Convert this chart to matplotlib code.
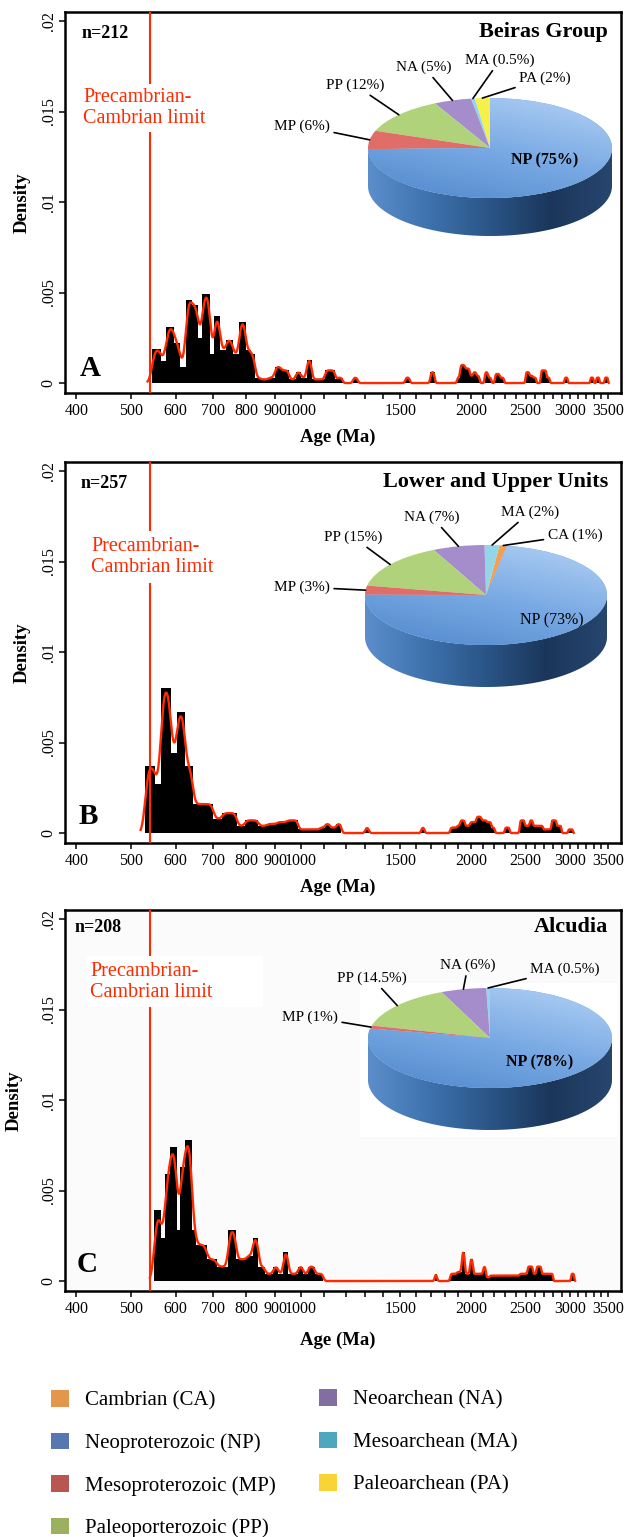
import math
import numpy as np
import matplotlib
matplotlib.use("Agg")
import matplotlib.pyplot as plt
from matplotlib.patches import Polygon, Patch, Rectangle
from matplotlib.colors import LinearSegmentedColormap
from matplotlib.ticker import NullFormatter

plt.rcParams['font.family'] = ['Liberation Serif', 'DejaVu Serif']

W, H = 628, 1537

# detrital zircon age histograms: bin edges (Ma) and density (x 1e-3)
a_edges = [545, 565, 577, 597, 611, 625, 641, 658, 669, 691, 702, 719, 737, 757, 778,
           798, 816, 829, 847, 876, 899, 922, 953, 979, 1000, 1024, 1045, 1103, 1150, 1160,
           1185, 1236, 1261, 1530, 1560, 1695, 1726, 1890, 1914, 1952, 1992, 2018, 2045, 2073, 2116,
           2145, 2175, 2206, 2250, 2290, 2500, 2540, 2576, 2612, 2660, 2722, 2760, 2930, 2970, 3255,
           3300, 3335, 3380, 3450, 3500]
a_dens = [1.9, 1.2, 3.1, 2.2, 0.9, 4.6, 4.3, 2.5, 4.9, 1.6, 3.7, 1.8, 2.4, 1.6, 3.4,
          1.8, 1.6, 0.3, 0.2, 0.3, 0.9, 0.7, 0.2, 0.6, 0.3, 1.3, 0.2, 0.7, 0.2, 0.3,
          0, 0.3, 0, 0.3, 0, 0.6, 0, 0.3, 1.0, 0.8, 0.4, 0.6, 0.4, 0, 0.6,
          0.3, 0, 0.5, 0.3, 0, 0.6, 0.4, 0.3, 0, 0.7, 0.3, 0, 0.3, 0, 0.3,
          0, 0.3, 0, 0.3]

b_edges = [530, 552, 565, 588, 603, 623, 643, 700, 726, 770, 796, 841, 871, 907, 944,
           989, 1080, 1103, 1126, 1156, 1180, 1300, 1320, 1633, 1656, 1838, 1889, 1914, 1952, 1992,
           2045, 2088, 2133, 2175, 2206, 2296, 2344, 2441, 2490, 2542, 2576, 2629, 2684, 2778, 2836,
           2895, 2973, 3034]
b_dens = [3.7, 2.7, 8.0, 4.4, 6.7, 3.7, 1.6, 0.8, 1.1, 0.4, 0.7, 0.4, 0.5, 0.6, 0.7,
          0.2, 0.3, 0.5, 0.3, 0.5, 0, 0.3, 0, 0.3, 0, 0.3, 0.4, 0.7, 0.4, 0.6,
          0.9, 0.7, 0.6, 0.3, 0, 0.3, 0, 0.7, 0.4, 0.7, 0.4, 0.4, 0.2, 0.7, 0.4,
          0, 0.2]

c_edges = [550, 564, 575, 586, 603, 611, 623, 641, 651, 667, 681, 709, 724, 744, 767,
           786, 802, 822, 841, 864, 894, 912, 931, 950, 970, 989, 1009, 1030, 1058, 1074,
           1096, 1726, 1742, 1838, 1889, 1927, 1952, 1992, 2018, 2103, 2127, 2160, 2441, 2520, 2576,
           2612, 2667, 2797, 3010, 3050]
c_dens = [3.9, 2.4, 5.9, 7.4, 2.8, 6.3, 7.8, 2.8, 2.0, 2.0, 1.2, 0.8, 0.8, 2.8, 1.2,
          1.2, 1.4, 2.4, 0.8, 0.4, 0.8, 0.4, 1.6, 0.4, 0.4, 0.8, 0.4, 0.8, 0.4, 0.4,
          0, 0.4, 0, 0.4, 0.5, 1.6, 0.4, 1.2, 0.4, 0.8, 0.2, 0.3, 0.4, 0.8, 0.4,
          0.8, 0.4, 0, 0.4]

n_grains = [212, 257, 208]
panel_letters = ['A', 'B', 'C']
panel_titles = ['Beiras Group', 'Lower and Upper Units', 'Alcudia']
limit_age = 541

# pie slices, listed counterclockwise from the start angle
a_pie_codes = ['PA', 'MA', 'NA', 'PP', 'MP', 'NP']
a_pie_pct = [2, 0.5, 5, 12, 6, 75]
b_pie_codes = ['CA', 'MA', 'NA', 'PP', 'MP', 'NP']
b_pie_pct = [1, 2, 7, 15, 3, 73]
c_pie_codes = ['MA', 'NA', 'PP', 'MP', 'NP']
c_pie_pct = [0.5, 6, 14.5, 1, 78]

legend_codes = ['CA', 'NP', 'MP', 'PP', 'NA', 'MA', 'PA']
legend_names = ['Cambrian', 'Neoproterozoic', 'Mesoproterozoic', 'Paleoporterozoic',
                'Neoarchean', 'Mesoarchean', 'Paleoarchean']

xticks_major = [400, 500, 600, 700, 800, 900, 1000, 1500, 2000, 2500, 3000, 3500]
xticks_minor = [1100, 1200, 1300, 1400, 1600, 1700, 1800, 1900, 2100, 2200, 2300, 2400,
                2600, 2700, 2800, 2900, 3100, 3200, 3300, 3400]
yticks = [0, 0.005, 0.01, 0.015, 0.02]
ytick_labels = ['0', '.005', '.01', '.015', '.02']

# colours
RED = '#ff2a00'
top_colors = {'CA': '#f5a04f', 'NP': '#6b9fdc', 'MP': '#e06d68', 'PP': '#b0d27a',
              'NA': '#a58ccb', 'MA': '#93d6ea', 'PA': '#f6f04a'}
legend_colors = {'CA': '#e3974d', 'NP': '#5677af', 'MP': '#b85752', 'PP': '#9bb15f',
                 'NA': '#826ea0', 'MA': '#4ea7bc', 'PA': '#f9d436'}
side_cmap = LinearSegmentedColormap.from_list('side', ['#5b8ecb', '#3e72ad', '#2a5587', '#1b365a', '#27466e'])
top_cmap = LinearSegmentedColormap.from_list('top', ['#4f88cc', '#7aaae4', '#b3d2f5'])

# layout in pixels
panel_top = [12, 462, 910]
pie_geom = [(490, 148, 122, 50, 38), (486, 595, 121, 50, 42), (490, 1038, 122, 50, 42)]
pie_start = [90, 80, 90]
pie_label_pos = [
    {'PP': (355, 85), 'NA': (424, 67), 'MA': (500, 60), 'PA': (545, 78), 'MP': (302, 126), 'NP': (545, 160)},
    {'NA': (432, 517), 'PP': (353, 537), 'MA': (530, 512), 'CA': (575, 535), 'MP': (302, 587), 'NP': (552, 620)},
    {'NA': (468, 965), 'PP': (372, 978), 'MA': (565, 969), 'MP': (310, 1017), 'NP': (540, 1062)},
]
np_bold = [True, False, True]
n_pos = [(82, 33), (81, 483), (75, 928)]
letter_pos = [(80, 368), (79, 816), (77, 1264)]
title_pos = [(608, 32), (608, 482), (608, 927)]
limit_text_pos = [(83, 108), (91, 557), (90, 982)]
limit_box = [(80, 84, 197, 132), (88, 531, 218, 583), (87, 956, 263, 1007)]
density_x = [31, 31, 23]    # right edge of the rotated label
age_y = [429, 879, 1332]    # top of the x label


def fx(x):
    return x / W


def fy(y):
    return 1 - y / H


def smooth(edges, dens, grid, bw=6.0):
    # histogram convolved with a gaussian kernel
    erf = np.vectorize(math.erf)
    out = np.zeros_like(grid)
    s = bw * math.sqrt(2)
    for a, b, d in zip(edges[:-1], edges[1:], dens):
        if d == 0:
            continue
        out += d * 0.5 * (erf((grid - a) / s) - erf((grid - b) / s))
    return out


fig = plt.figure(figsize=(W / 100, H / 100), dpi=100)


def draw_panel(i, edges, dens):
    top = panel_top[i]
    ax = fig.add_axes([fx(65), fy(top + 381), 556 / W, 381 / H])
    d = np.array(dens) * 1e-3
    ax.stairs(d, edges, fill=True, color='black', lw=0, zorder=2)
    grid = np.linspace(edges[0] - 10, edges[-1] + 10, 4000)
    ax.plot(grid, smooth(edges, d, grid), color=RED, lw=1.7, zorder=4)
    ax.axvline(limit_age, color=RED, lw=1.5, zorder=3)
    ax.set_xscale('log')
    ax.set_xlim(382, 3690)
    ax.set_ylim(-0.00055, 0.0205)
    ax.set_xticks(xticks_major, [str(t) for t in xticks_major])
    ax.set_xticks(xticks_minor, minor=True)
    ax.xaxis.set_minor_formatter(NullFormatter())
    ax.set_yticks(yticks, ytick_labels, rotation=90, va='center')
    ax.tick_params(which='both', direction='out', length=4, width=1.1, labelsize=11.5, pad=2)
    ax.tick_params(axis='x', pad=3)
    for sp in ax.spines.values():
        sp.set_linewidth(1.8)
    ax.set_ylabel('Density', fontsize=13.5, fontweight='bold')
    ax.yaxis.set_label_coords((density_x[i] - 65) / 556, 0.5)
    ax.set_xlabel('Age (Ma)', fontsize=13.5, fontweight='bold')
    ax.xaxis.set_label_coords((338 - 65) / 556, (top + 381 - age_y[i]) / 381)

    if i == 2:
        ax.set_facecolor('#fbfbfb')
        ax.add_patch(Rectangle((fx(360), fy(1137)), 258 / W, 154 / H, transform=fig.transFigure,
                               facecolor='white', edgecolor='none', zorder=1))
    x0, y0, x1, y1 = limit_box[i]
    ax.add_patch(Rectangle((fx(x0), fy(y1)), (x1 - x0) / W, (y1 - y0) / H, transform=fig.transFigure,
                           facecolor='white', edgecolor='none', zorder=3.5))
    ax.text(fx(limit_text_pos[i][0]), fy(limit_text_pos[i][1]), 'Precambrian-\nCambrian limit',
            transform=fig.transFigure, color=RED, fontsize=14.5, ha='left', va='center',
            linespacing=1.15, zorder=5)
    ax.text(fx(n_pos[i][0]), fy(n_pos[i][1]), 'n=%d' % n_grains[i], transform=fig.transFigure,
            fontsize=13, fontweight='bold', ha='left', va='center')
    ax.text(fx(title_pos[i][0]), fy(title_pos[i][1]), panel_titles[i], transform=fig.transFigure,
            fontsize=16, fontweight='bold', ha='right', va='center')
    ax.text(fx(letter_pos[i][0]), fy(letter_pos[i][1]), panel_letters[i], transform=fig.transFigure,
            fontsize=21, fontweight='bold', ha='left', va='center')
    return ax


def draw_pie(i, codes, pct):
    cx, cy, rx, ry, depth = pie_geom[i]
    k = depth / ry
    pax = fig.add_axes([fx(cx - rx), fy(cy + ry + depth), 2 * rx / W, (2 * ry + depth) / H])
    wedges, _ = pax.pie(pct, colors=[top_colors[c] for c in codes], startangle=pie_start[i],
                        counterclock=True, wedgeprops=dict(linewidth=0), radius=1)
    # side of the disc (front half is all NP)
    t = np.linspace(np.pi, 2 * np.pi, 200)
    rim = np.column_stack([np.cos(t), np.sin(t)])
    side = Polygon(np.vstack([rim, rim[::-1] - [0, k]]), closed=True, facecolor='none', edgecolor='none')
    pax.add_patch(side)
    gimg = pax.imshow(np.linspace(0, 1, 256)[None, :], extent=[-1, 1, -1 - k, 0], cmap=side_cmap,
                      aspect='auto', zorder=0.5)
    gimg.set_clip_path(side)
    # shading on the NP top surface
    yy, xx = np.mgrid[-1:1:200j, -1:1:200j]
    z = 0.65 * (yy + 1) / 2 + 0.35 * (xx + 1) / 2
    np_w = wedges[codes.index('NP')]
    timg = pax.imshow(z, extent=[-1, 1, -1, 1], origin='lower', cmap=top_cmap, aspect='auto', zorder=1.5)
    timg.set_clip_path(np_w)
    pax.set_aspect('auto')
    pax.set_xlim(-1, 1)
    pax.set_ylim(-1 - k, 1)
    pax.axis('off')

    for w, c, p in zip(wedges, codes, pct):
        lab = '%s (%g%%)' % (c, p)
        px, py = pie_label_pos[i][c]
        if c == 'NP':
            pax.text(fx(px), fy(py), lab, transform=fig.transFigure, fontsize=11.5, ha='center', va='center',
                     fontweight='bold' if np_bold[i] else 'normal', zorder=5)
            continue
        mid = math.radians((w.theta1 + w.theta2) / 2)
        pax.annotate(lab, xy=(math.cos(mid), math.sin(mid)), xycoords='data',
                     xytext=(fx(px), fy(py)), textcoords='figure fraction',
                     ha='center', va='center', fontsize=11, annotation_clip=False,
                     arrowprops=dict(arrowstyle='-', color='black', lw=1.2, shrinkA=1, shrinkB=0))


draw_panel(0, a_edges, a_dens)
draw_panel(1, b_edges, b_dens)
draw_panel(2, c_edges, c_dens)
draw_pie(0, a_pie_codes, a_pie_pct)
draw_pie(1, b_pie_codes, b_pie_pct)
draw_pie(2, c_pie_codes, c_pie_pct)

handles = [Patch(facecolor=legend_colors[c], edgecolor='none') for c in legend_codes]
labels = ['%s (%s)' % (n, c) for n, c in zip(legend_names, legend_codes)]
leg_kw = dict(loc='upper left', frameon=False, fontsize=15, handlelength=0.87, handleheight=0.87,
              handletextpad=0.75, labelspacing=1.05, borderpad=0, borderaxespad=0)
fig.legend(handles[:4], labels[:4], bbox_to_anchor=(fx(51), fy(1390)), **leg_kw)
fig.legend(handles[4:], labels[4:], bbox_to_anchor=(fx(319), fy(1389)), **leg_kw)

fig.savefig('out.png', dpi=100)
